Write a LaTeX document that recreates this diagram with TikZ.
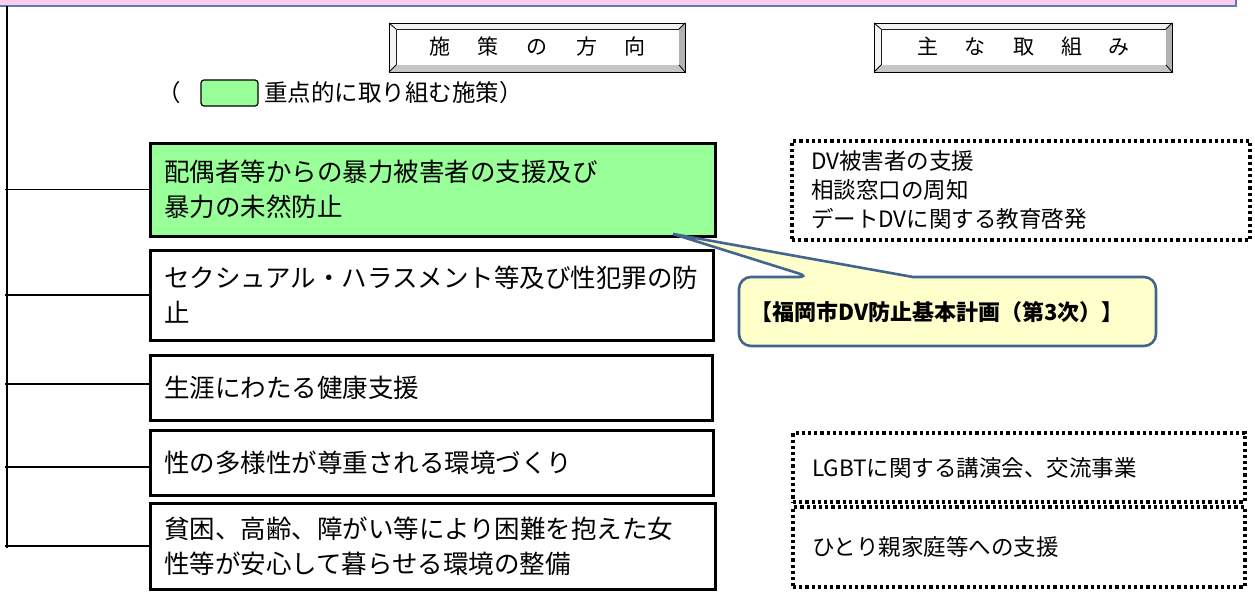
\documentclass[tikz,border=0pt]{standalone}
\usepackage{fontspec}
\setmainfont{Noto Sans CJK JP}
\usetikzlibrary{calc}
\definecolor{keygreen}{HTML}{99FF99}
\definecolor{barpink}{HTML}{FFCCF0}
\definecolor{barblue}{HTML}{5B7DB1}
\definecolor{callfill}{HTML}{FFFFCC}
\definecolor{callline}{HTML}{42648F}
\newcommand\mybevel[1]{%
  \coordinate (#1o1) at ([shift={(-7,-6)}]#1.north west);
  \coordinate (#1o2) at ([shift={(6,-6)}]#1.north east);
  \coordinate (#1o3) at ([shift={(6,7)}]#1.south east);
  \coordinate (#1o4) at ([shift={(-7,7)}]#1.south west);
  \fill[gray!10] (#1o1) -- (#1o2) -- (#1.north east) -- (#1.north west) -- cycle;
  \fill[gray!8] (#1o1) -- (#1.north west) -- (#1.south west) -- (#1o4) -- cycle;
  \fill[gray!60] (#1o2) -- (#1o3) -- (#1.south east) -- (#1.north east) -- cycle;
  \fill[gray!45] (#1o4) -- (#1o3) -- (#1.south east) -- (#1.south west) -- cycle;
  \draw[line width=1pt] (#1o1) rectangle (#1o3);
  \draw[line width=0.8pt] (#1o1) -- (#1.north west) (#1o2) -- (#1.north east)
        (#1o3) -- (#1.south east) (#1o4) -- (#1.south west);
}
\begin{document}
\begin{tikzpicture}[x=1pt,y=-1pt,
  mainbox/.style={draw=black, line width=3pt, anchor=north west, outer sep=0pt,
    inner xsep=14pt, inner ysep=0pt, align=left,
    font=\fontsize{25.5}{35}\selectfont},
  dotbox/.style={draw=black, line width=3.2pt, dash pattern=on 3.2pt off 3pt,
    anchor=north west, outer sep=0pt, inner xsep=19pt, inner ysep=0pt,
    align=left, font=\fontsize{22.5}{29}\selectfont},
  titlebox/.style={draw=black, line width=1pt, fill=white, outer sep=0pt,
    inner sep=0pt, font=\fontsize{21}{24}\selectfont},
  branch/.style={draw=black, line width=1.3pt}]
\useasboundingbox (0,0) rectangle (1255,592);

% top bar
\draw[fill=barpink, draw=barblue, line width=1.5pt] (-5,-20) rectangle (1236,6);

% trunk
\coordinate (trunktop) at (7,6);
\coordinate (trunkbot) at (7,548);
\coordinate (stub) at (5,0);
\draw[line width=2pt] (trunktop) -- (trunkbot);

% title boxes
\node[titlebox, minimum width=283, minimum height=36] (ta) at (537.5,47)
  {施\hspace{28pt}策\hspace{28pt}の\hspace{28pt}方\hspace{28pt}向};
\mybevel{ta}
\node[titlebox, minimum width=285, minimum height=36] (tb) at (1023.5,47)
  {主\hspace{27pt}な\hspace{27pt}取\hspace{27pt}組\hspace{27pt}み};
\mybevel{tb}

% legend
\node[anchor=west, inner sep=0pt, font=\fontsize{23.5}{26}\selectfont] (lpar) at (157,93) {（};
\node[draw=black, line width=1.2pt, fill=keygreen, rounded corners=3pt,
  minimum width=57, minimum height=26, inner sep=0pt] (leg) at (229.5,93) {};
\node[anchor=west, inner sep=0pt, font=\fontsize{23.5}{26}\selectfont] (ltext) at (264,93)
  {重点的に取り組む施策）};

% main boxes
\node[mainbox, fill=keygreen, text width=537, minimum height=93] (b1) at (150,143)
  {配偶者等からの暴力被害者の支援及び\\暴力の未然防止};
\node[mainbox, text width=535, minimum height=90] (b2) at (150,250)
  {セクシュアル・ハラスメント等及び性犯罪の防\\止};
\node[mainbox, text width=534, minimum height=65] (b3) at (150,355)
  {生涯にわたる健康支援};
\node[mainbox, text width=535, minimum height=65] (b4) at (150,430)
  {性の多様性が尊重される環境づくり};
\node[mainbox, text width=537, minimum height=86] (b5) at (150,503)
  {貧困、高齢、障がい等により困難を抱えた女\\性等が安心して暮らせる環境の整備};

% branches
\draw[branch] (stub |- b1.west) -- (b1.west);
\draw[branch] (stub |- b2.west) -- (b2.west);
\draw[branch] ([yshift=3.5]stub |- b3.west) -- ([yshift=3.5]b3.west);
\draw[branch] ([yshift=-4.5]stub |- b4.west) -- ([yshift=-4.5]b4.west);
\draw[branch] (stub |- b5.west) -- (b5.west);

% right dotted boxes
\node[dotbox, text width=420, minimum height=99] (ra) at (792,141)
  {DV被害者の支援\\相談窓口の周知\\デートDVに関する教育啓発};
\node[dotbox, text width=414, minimum height=69] (rb) at (793,433)
  {LGBTに関する講演会、交流事業};
\node[dotbox, text width=414, minimum height=80] (rc) at (793,507)
  {ひとり親家庭等への支援};

% callout
\coordinate (tip) at (673,234);
\path[draw=callline, fill=callfill, line width=2.6pt, rounded corners=12pt]
  (739,310) -- (739,277) -- (810,277) [sharp corners] -- (tip) -- (913,277)
  [rounded corners=12pt] -- (1156,277) -- (1156,346) -- (739,346) -- cycle;
\node[font=\bfseries\fontsize{22}{26}\selectfont, inner sep=0pt] (ctext) at (937,312)
  {【福岡市DV防止基本計画（第3次）】};
\end{tikzpicture}
\end{document}
